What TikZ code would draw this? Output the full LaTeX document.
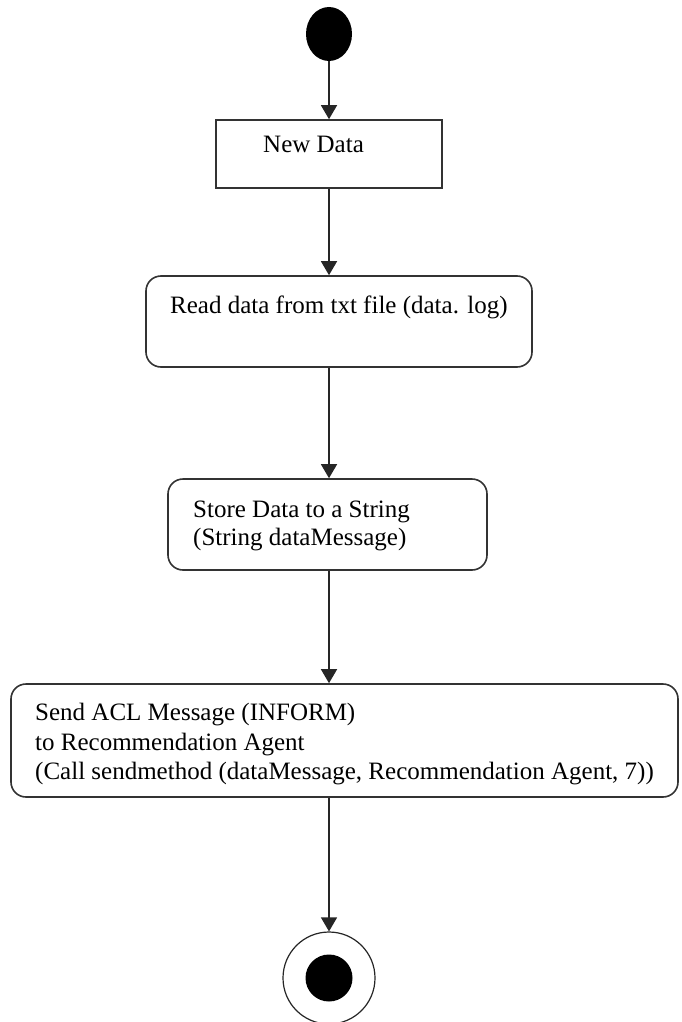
\documentclass[tikz,border=0pt]{standalone}
\usepackage{fontspec}
\setmainfont{Liberation Serif}
\usetikzlibrary{arrows.meta,shapes.geometric}
\begin{document}
\begin{tikzpicture}[x=1pt,y=-1pt,
  sbox/.style={draw=black!80,line width=1.6pt,rectangle,inner sep=0pt},
  rbox/.style={sbox,rounded corners=15pt},
  txt/.style={inner sep=0pt,anchor=base west,font=\fontsize{25}{29}\selectfont},
  arr/.style={draw=black!85,line width=1.4pt,-{Triangle[width=16pt,length=14pt]}},
]
\useasboundingbox (0,0) rectangle (681,1022);
% states
\node[ellipse,fill=black,minimum width=46,minimum height=54,inner sep=0pt] (start) at (329,34) {};
\node[sbox,minimum width=226,minimum height=68] (newdata) at (329,154) {};
\node[rbox,minimum width=386,minimum height=91] (read) at (339,321.5) {};
\node[rbox,minimum width=319,minimum height=91] (store) at (327.5,524.5) {};
\node[rbox,minimum width=667,minimum height=113] (send) at (344.5,740.5) {};
\node[circle,draw=black!85,line width=1.2pt,minimum size=92,inner sep=0pt] (final) at (329,978) {};
\node[circle,fill=black,minimum size=47,inner sep=0pt] (finaldot) at (329,978) {};
% texts
\node[txt] (tnew) at (263,153) {New Data};
\node[txt] (tread) at (170,313) {Read data from txt file (data. log)};
\node[txt] (tstore1) at (193,517) {Store Data to a String};
\node[txt] (tstore2) at (193,545) {(String dataMessage)};
\node[txt] (tsend1) at (35,720) {Send ACL Message (INFORM)};
\node[txt] (tsend2) at (35,750) {to Recommendation Agent};
\node[txt] (tsend3) at (35,779) {(Call sendmethod (dataMessage, Recommendation Agent, 7))};
% transitions
\draw[arr] (start.south) -- (newdata.north);
\draw[arr] (newdata.south) -- (newdata.south |- read.north);
\draw[arr] (newdata.south |- read.south) -- (newdata.south |- store.north);
\draw[arr] (newdata.south |- store.south) -- (newdata.south |- send.north);
\draw[arr] (final.north |- send.south) -- (final.north);
\end{tikzpicture}
\end{document}
